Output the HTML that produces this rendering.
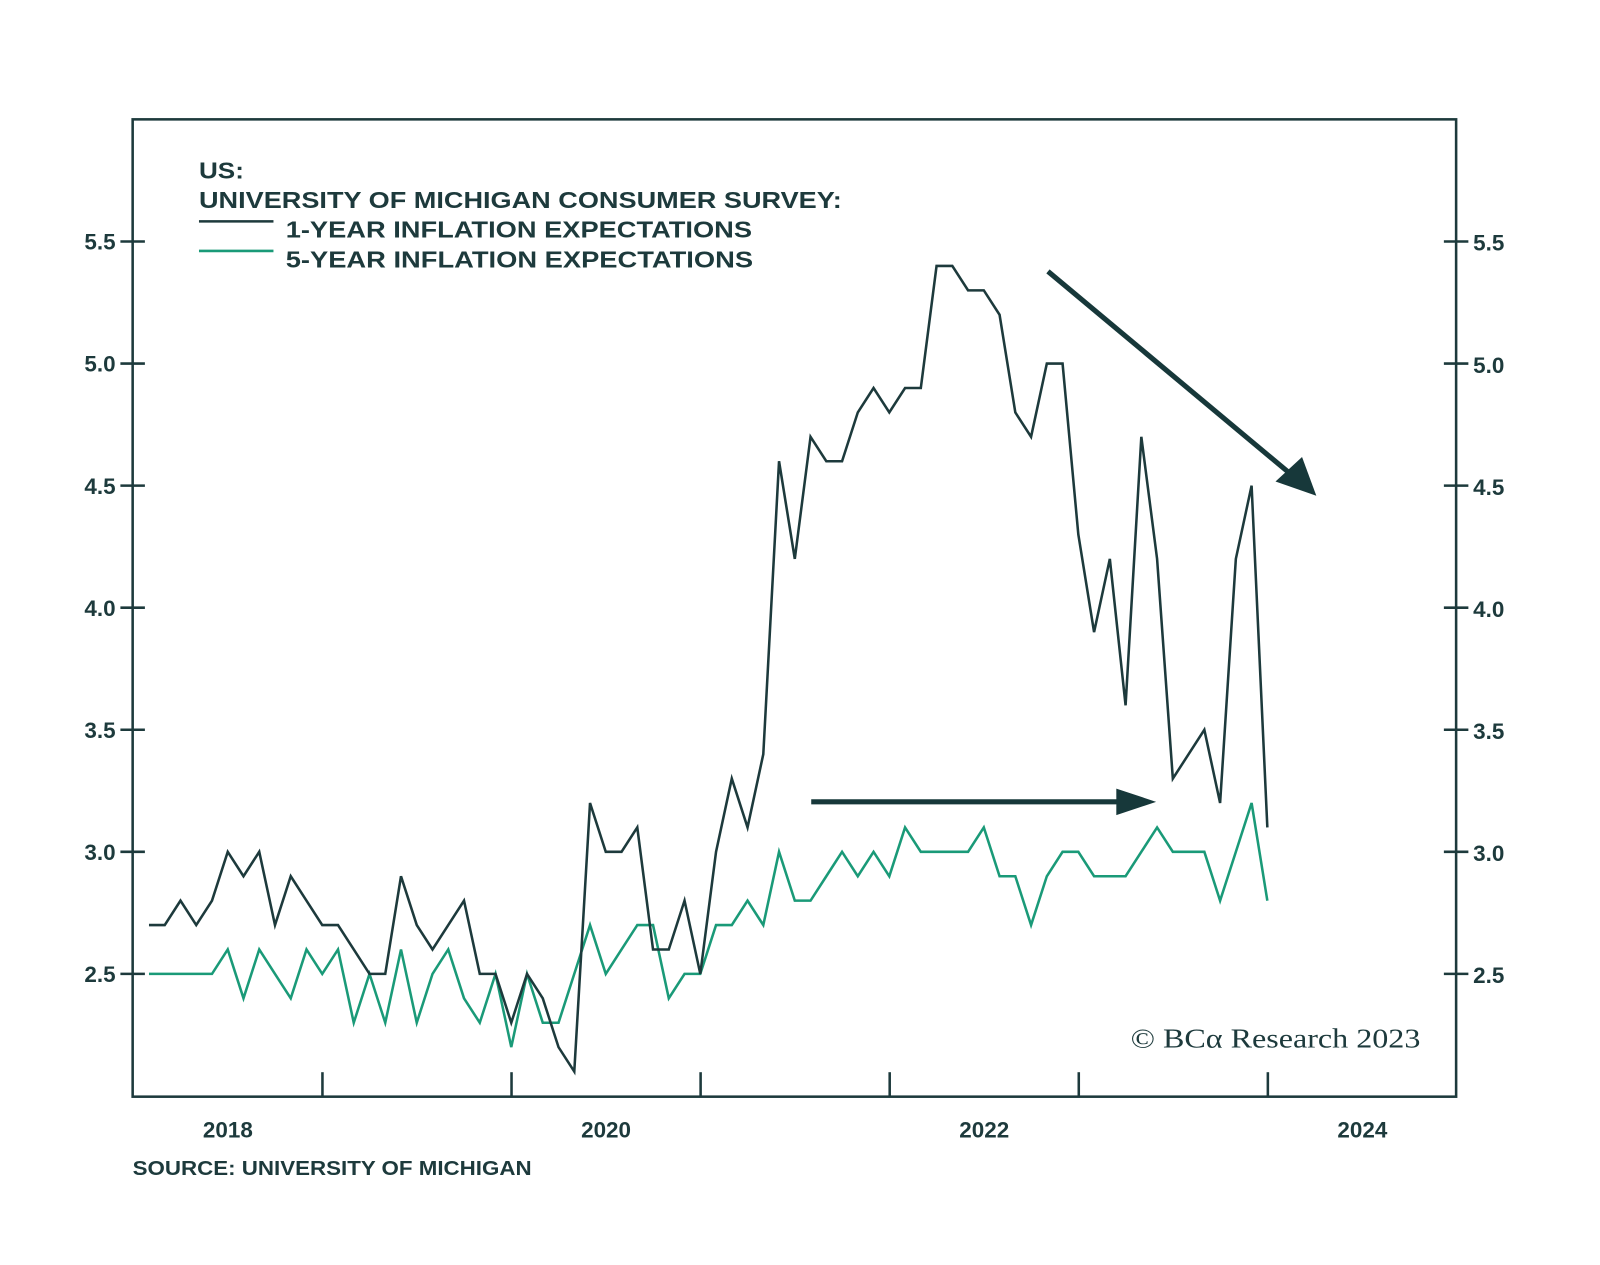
<!DOCTYPE html>
<html><head><meta charset="utf-8"><style>
html,body{margin:0;padding:0;background:#fff;}
svg{display:block;}
text{font-family:"Liberation Sans",sans-serif;fill:#1d3a3c;}
</style></head><body>
<svg id="chart" width="1600" height="1265" viewBox="0 0 1568 1240" preserveAspectRatio="none" xmlns="http://www.w3.org/2000/svg">
<rect x="130" y="117" width="1297" height="958" fill="none" stroke="#1d3a3c" stroke-width="2.5"/>
<g id="axes"></g>
<g id="series"></g>
<text x="195" y="175" font-size="23" font-weight="bold" textLength="44" lengthAdjust="spacingAndGlyphs">US:</text>
<text x="195" y="204" font-size="23" font-weight="bold" textLength="630" lengthAdjust="spacingAndGlyphs">UNIVERSITY OF MICHIGAN CONSUMER SURVEY:</text>
<line x1="195" y1="217" x2="268" y2="217" stroke="#1d3a3c" stroke-width="2.5"/>
<text x="280" y="233" font-size="23" font-weight="bold" textLength="457" lengthAdjust="spacingAndGlyphs">1-YEAR INFLATION EXPECTATIONS</text>
<line x1="195" y1="246" x2="268" y2="246" stroke="#1a9a78" stroke-width="2.5"/>
<text x="280" y="262" font-size="23" font-weight="bold" textLength="458" lengthAdjust="spacingAndGlyphs">5-YEAR INFLATION EXPECTATIONS</text>
<g>
<line x1="1027" y1="266" x2="1270" y2="469" stroke="#17383a" stroke-width="5"/>
<polygon points="1290,486 1250,472 1276,448" fill="#17383a"/>
</g>
<g>
<line x1="795" y1="786" x2="1105" y2="786" stroke="#17383a" stroke-width="5"/>
<polygon points="1133,786 1094,773 1094,799" fill="#17383a"/>
</g>
<text x="1108" y="1027" font-size="27" style="font-family:'Liberation Serif',serif" textLength="284" lengthAdjust="spacingAndGlyphs">© BCα Research 2023</text>
<text x="130" y="1152" font-size="20" font-weight="bold" textLength="391" lengthAdjust="spacingAndGlyphs">SOURCE: UNIVERSITY OF MICHIGAN</text>
</svg>
<script>
const yTicks = [2.5, 3.0, 3.5, 4.0, 4.5, 5.0, 5.5];
const yearLabels = ["2018", "2020", "2022", "2024"];
const yearLabelPos = [2018.5, 2020.5, 2022.5, 2024.5];
const yearTicks = [2019, 2020, 2021, 2022, 2023, 2024];
const oneYear = [2.7,2.7,2.8,2.7,2.8,3.0,2.9,3.0,2.7,2.9,2.8,2.7,2.7,2.6,2.5,2.5,2.9,2.7,2.6,2.7,2.8,2.5,2.5,2.3,2.5,2.4,2.2,2.1,3.2,3.0,3.0,3.1,2.6,2.6,2.8,2.5,
3.0,3.3,3.1,3.4,4.6,4.2,4.7,4.6,4.6,4.8,4.9,4.8,4.9,4.9,5.4,5.4,5.3,5.3,5.2,4.8,4.7,5.0,5.0,4.3,3.9,4.2,3.6,4.7,4.2,3.3,3.4,3.5,3.2,4.2,4.5,3.1];
const fiveYear = [2.5,2.5,2.5,2.5,2.5,2.6,2.4,2.6,2.5,2.4,2.6,2.5,2.6,2.3,2.5,2.3,2.6,2.3,2.5,2.6,2.4,2.3,2.5,2.2,2.5,2.3,2.3,2.5,2.7,2.5,2.6,2.7,2.7,2.4,2.5,2.5,
2.7,2.7,2.8,2.7,3.0,2.8,2.8,2.9,3.0,2.9,3.0,2.9,3.1,3.0,3.0,3.0,3.0,3.1,2.9,2.9,2.7,2.9,3.0,3.0,2.9,2.9,2.9,3.0,3.1,3.0,3.0,3.0,2.8,3.0,3.2,2.8];
const NS = "http://www.w3.org/2000/svg";
function yS(v){ return 835 - (v - 3) * 239.3; }
function xT(t){ return 316 + (t - 2019) * 185.3; }
const axes = document.getElementById('axes');
function mk(tag, attrs, parent){ const e=document.createElementNS(NS,tag); for(const k in attrs) e.setAttribute(k,attrs[k]); parent.appendChild(e); return e; }
yTicks.forEach(v=>{
  const y=yS(v);
  const l=mk('line',{x1:118,x2:142,y1:y,y2:y,stroke:'#1d3a3c','stroke-width':2.5},axes);
  
  
  const r=mk('line',{x1:1415,x2:1439,y1:y,y2:y,stroke:'#1d3a3c','stroke-width':2.5},axes);
  
  
  const tl=mk('text',{x:98,y:y+8,'font-size':22,'font-weight':'bold','text-anchor':'middle'},axes);
  tl.textContent=v.toFixed(1);
  
  
  const tr=mk('text',{x:1459,y:y+9,'font-size':22,'font-weight':'bold','text-anchor':'middle'},axes);
  tr.textContent=v.toFixed(1);
  
  
});
yearTicks.forEach(t=>{
  const x=xT(t);
  const l=mk('line',{x1:x,x2:x,y1:1051,y2:1075,stroke:'#1d3a3c','stroke-width':2.5},axes);
  
  
});
yearLabels.forEach((s,i)=>{
  const t=mk('text',{x:xT(yearLabelPos[i]),y:1115,'font-size':22,'font-weight':'bold','text-anchor':'middle'},axes);
  t.textContent=s;
  
  
});
function xIdx(i){ return 146 + i * (1242 - 146) / 71; }
const series=document.getElementById('series');
function line(data,color,name){
  const p=mk('polyline',{points:data.map((v,i)=>xIdx(i)+','+yS(v)).join(' '),fill:'none',stroke:color,'stroke-width':2.5,'stroke-linejoin':'miter'},series);
  
  
}
line(fiveYear,'#1a9a78','line-5y-expectations');
line(oneYear,'#1d3a3c','line-1y-expectations');
</script>
</body></html>
